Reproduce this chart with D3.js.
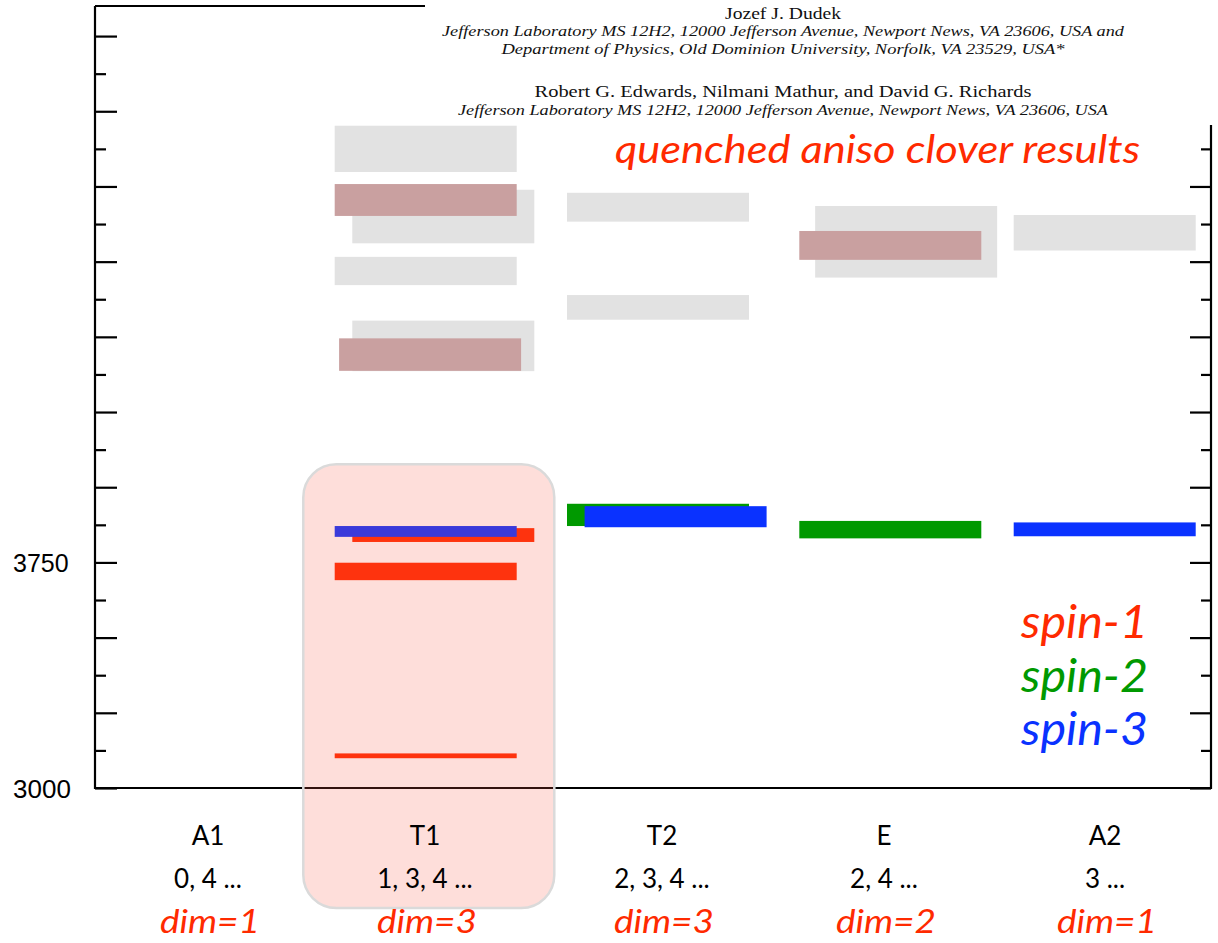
<!DOCTYPE html>
<html>
<head>
<meta charset="utf-8">
<script src="https://cdn.jsdelivr.net/npm/d3@7"></script>
<style>
  html, body { margin: 0; padding: 0; background: #fff; }
  svg { display: block; }
</style>
</head>
<body>
<svg id="chart" width="1218" height="943"></svg>
<script>
// Cubic-group irreps and the spins they contain
const irreps = ["A1", "T1", "T2", "E", "A2"];
const spinContent = ["0, 4 ...", "1, 3, 4 ...", "2, 3, 4 ...", "2, 4 ...", "3 ..."];
const dimLabels = ["dim=1", "dim=3", "dim=3", "dim=2", "dim=1"];

// Mass axis (MeV)
const massDomain = [3000, 5600];
const labelledTicks = [3000, 3750];

// Levels: central mass and half-width (MeV); slot = dodge position within the irrep column
const unassignedLevels = [
  { irrep: "T1", mass: 5125, err: 77, slot: 0 },
  { irrep: "T1", mass: 4900, err: 89, slot: 1 },
  { irrep: "T1", mass: 4719, err: 47, slot: 0 },
  { irrep: "T1", mass: 4470, err: 84, slot: 1 },
  { irrep: "T2", mass: 4931, err: 48, slot: 0 },
  { irrep: "T2", mass: 4598, err: 41, slot: 0 },
  { irrep: "E",  mass: 4816, err: 119, slot: 0.9 },
  { irrep: "A2", mass: 4846, err: 59, slot: 0 }
];
const exoticLevels = [
  { irrep: "T1", mass: 4955, err: 53, slot: 0 },
  { irrep: "T1", mass: 4441, err: 54, slot: 0.25 },
  { irrep: "E",  mass: 4804, err: 48, slot: 0 }
];
const spin1Levels = [
  { irrep: "T1", mass: 3107, err: 8,  slot: 0 },
  { irrep: "T1", mass: 3720, err: 29, slot: 0 },
  { irrep: "T1", mass: 3841, err: 23, slot: 1 }
];
const spin2Levels = [
  { irrep: "T2", mass: 3908, err: 37, slot: 0 },
  { irrep: "E",  mass: 3859, err: 29, slot: 0 }
];
const spin3Levels = [
  { irrep: "T1", mass: 3853, err: 18, slot: 0 },
  { irrep: "T2", mass: 3902, err: 35, slot: 1 },
  { irrep: "A2", mass: 3860, err: 23, slot: 0 }
];
const legendNames = ["spin-1", "spin-2", "spin-3"];

const headerLines = [
  "Jozef J. Dudek",
  "Jefferson Laboratory MS 12H2, 12000 Jefferson Avenue, Newport News, VA 23606, USA and",
  "Department of Physics, Old Dominion University, Norfolk, VA 23529, USA*",
  "Robert G. Edwards, Nilmani Mathur, and David G. Richards",
  "Jefferson Laboratory MS 12H2, 12000 Jefferson Avenue, Newport News, VA 23606, USA"
];

// ---- layout ----
const svg = d3.select("#chart");
const plotLeft = 95, plotRight = 1211, plotTop = 6, plotBottom = 788;
const barWidth = 182, dodgeStep = 17.6;

const y = d3.scaleLinear().domain(massDomain).range([plotBottom, plotTop]);
const colLeft = d3.scaleOrdinal().domain(irreps).range([102.4, 334.7, 567, 799.3, 1013.7]);
const labelX = d3.scaleOrdinal().domain(irreps).range([208, 425, 662, 884, 1105]);

const colours = {
  grey: "#e2e2e2", exotic: "#c9a0a0",
  spin1: "#ff2a00", spin2: "#009900", spin3: "#0a32ff"
};

// ---- levels ----
function drawLevels(data, fill, cls) {
  svg.append("g").attr("class", cls)
    .selectAll("rect").data(data).join("rect")
    .attr("x", d => colLeft(d.irrep) + d.slot * dodgeStep)
    .attr("width", barWidth)
    .attr("y", d => y(d.mass + d.err))
    .attr("height", d => y(d.mass - d.err) - y(d.mass + d.err))
    .attr("fill", fill);
}
drawLevels(unassignedLevels, colours.grey, "unassigned");
drawLevels(exoticLevels, colours.exotic, "exotic");
drawLevels(spin1Levels, colours.spin1, "spin1");
drawLevels(spin2Levels, colours.spin2, "spin2");
drawLevels(spin3Levels, colours.spin3, "spin3");

// ---- frame and ticks ----
const frame = svg.append("g").attr("stroke", "#000").attr("stroke-width", 2.2).attr("fill", "none");
frame.append("path").attr("d", `M${plotLeft},${plotTop}V${plotBottom}H${plotRight}V125`);
frame.append("path").attr("d", `M${plotLeft},${plotTop}H425`);

const majorTicks = d3.range(massDomain[0], massDomain[1] + 1, 250);
const minorTicks = d3.range(massDomain[0] + 125, massDomain[1], 250);

function tickAxis(axisFn, x, values, size, clipTop) {
  const g = svg.append("g").attr("transform", `translate(${x},0)`)
    .call(axisFn(y).tickValues(values.filter(v => y(v) > clipTop)).tickSize(size).tickFormat(""));
  g.select(".domain").remove();
  g.selectAll(".tick line").attr("stroke", "#000").attr("stroke-width", 2.2);
}
tickAxis(d3.axisRight, plotLeft, majorTicks, 22, 0);
tickAxis(d3.axisRight, plotLeft, minorTicks, 11, 0);
tickAxis(d3.axisLeft, plotRight, majorTicks, 21, 128);
tickAxis(d3.axisLeft, plotRight, minorTicks, 10, 128);

svg.append("g").selectAll("text").data(labelledTicks).join("text")
  .attr("x", 13)
  .attr("y", d => y(d) + 10)
  .attr("font-family", "'Liberation Sans', Arial, sans-serif")
  .attr("font-size", d => d === 3000 ? 26 : 25)
  .attr("fill", "#000")
  .text(d => d);

// ---- highlighted T1 column ----
svg.append("rect")
  .attr("x", 303.3).attr("y", 464.3)
  .attr("width", 251).attr("height", 443.7)
  .attr("rx", 33).attr("ry", 33)
  .attr("fill", "rgb(248,90,70)").attr("fill-opacity", 0.2)
  .attr("stroke", "#dadada").attr("stroke-width", 2.5);

// ---- irrep labels ----
const labelFont = "Lato, 'Open Sans', sans-serif";
const lab = svg.append("g").attr("text-anchor", "middle");
lab.selectAll(".irrep").data(irreps).join("text").attr("class", "irrep")
  .attr("x", d => labelX(d)).attr("y", 845)
  .attr("font-family", labelFont).attr("font-size", 26).attr("fill", "#000")
  .text(d => d);
lab.selectAll(".content").data(irreps).join("text").attr("class", "content")
  .attr("x", d => labelX(d)).attr("y", 888)
  .attr("font-family", labelFont).attr("font-size", 26).attr("fill", "#000")
  .text((d, i) => spinContent[i]);
lab.selectAll(".dim").data(irreps).join("text").attr("class", "dim")
  .attr("x", d => labelX(d) + 2).attr("y", 933)
  .attr("font-family", labelFont).attr("font-style", "italic").attr("font-size", 33)
  .attr("fill", colours.spin1)
  .attr("textLength", 100).attr("lengthAdjust", "spacingAndGlyphs")
  .text((d, i) => dimLabels[i]);

// ---- title and legend ----
svg.append("text")
  .attr("x", 615).attr("y", 163)
  .attr("font-family", labelFont).attr("font-style", "italic").attr("font-size", 38)
  .attr("fill", colours.spin1)
  .attr("textLength", 525).attr("lengthAdjust", "spacingAndGlyphs")
  .text("quenched aniso clover results");

const legendColours = [colours.spin1, colours.spin2, colours.spin3];
svg.append("g").selectAll("text").data(legendNames).join("text")
  .attr("x", 1021)
  .attr("y", (d, i) => 638 + i * 53.5)
  .attr("font-family", labelFont).attr("font-style", "italic").attr("font-size", 46)
  .attr("fill", (d, i) => legendColours[i])
  .attr("textLength", 127).attr("lengthAdjust", "spacingAndGlyphs")
  .text(d => d);

// ---- author block ----
const headerSpec = [
  { y: 19,  size: 16, italic: false, width: 116 },
  { y: 36,  size: 14, italic: true,  width: 682 },
  { y: 54,  size: 14, italic: true,  width: 563 },
  { y: 97,  size: 16, italic: false, width: 497 },
  { y: 115, size: 14, italic: true,  width: 650 }
];
svg.append("g").attr("text-anchor", "middle")
  .selectAll("text").data(headerLines).join("text")
  .attr("x", 783)
  .attr("y", (d, i) => headerSpec[i].y)
  .attr("font-family", "'Liberation Serif', 'DejaVu Serif', serif")
  .attr("font-style", (d, i) => headerSpec[i].italic ? "italic" : "normal")
  .attr("font-size", (d, i) => headerSpec[i].size)
  .attr("fill", "#111")
  .attr("textLength", (d, i) => headerSpec[i].width)
  .attr("lengthAdjust", "spacingAndGlyphs")
  .text(d => d);
</script>
</body>
</html>
